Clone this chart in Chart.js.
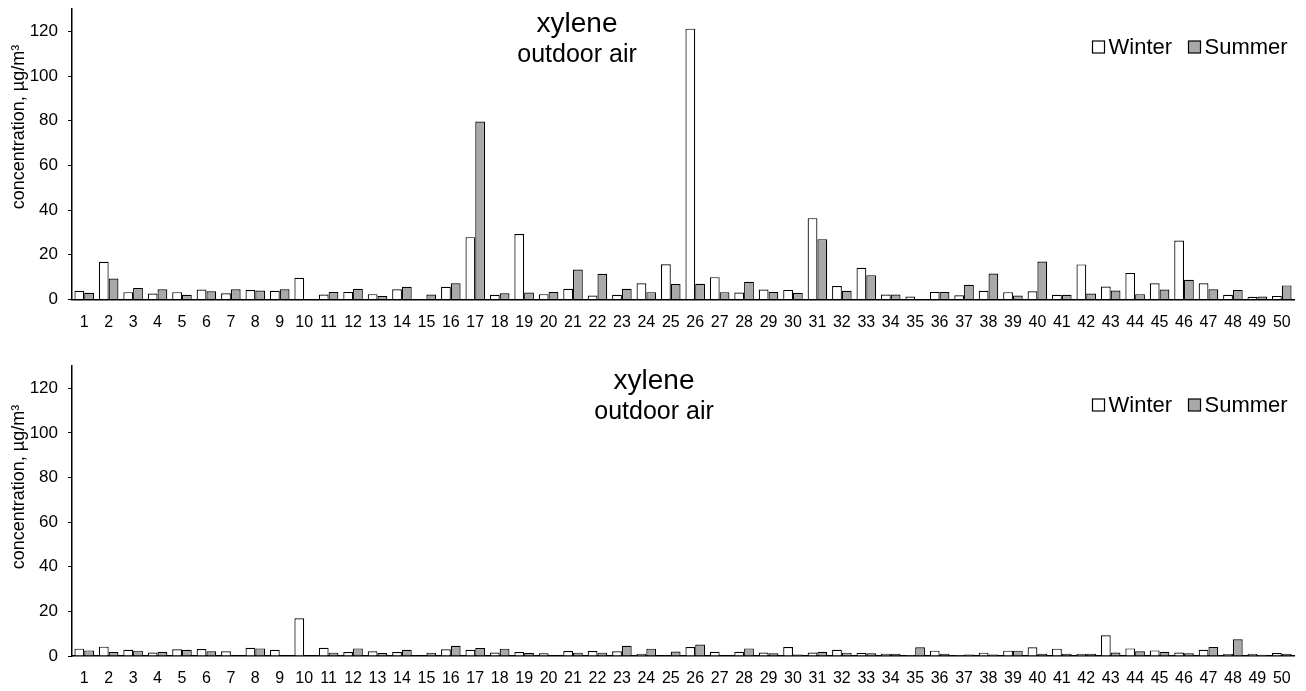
<!DOCTYPE html>
<html>
<head>
<meta charset="utf-8">
<script src="https://cdn.jsdelivr.net/npm/chart.js@4"></script>
<style>
  body { margin: 0; background: #fff; }
  .panel { position: absolute; left: 0; width: 1306px; }
  #topPanel { top: 0; height: 330px; }
  #bottomPanel { top: 330px; height: 361px; }
</style>
</head>
<body>
<div class="panel" id="topPanel"><canvas id="chartTop" width="1306" height="330"></canvas></div>
<div class="panel" id="bottomPanel"><canvas id="chartBottom" width="1306" height="361"></canvas></div>
<script>
const labels = ['1','2','3','4','5','6','7','8','9','10','11','12','13','14','15','16','17','18','19','20',
  '21','22','23','24','25','26','27','28','29','30','31','32','33','34','35','36','37','38','39','40',
  '41','42','43','44','45','46','47','48','49','50'];

// upper panel
const winterTop = [3.9,16.9,3.3,2.7,3.3,4.5,2.8,4.2,3.9,9.7,2.2,3.4,2.4,4.6,0,5.7,27.9,2.1,29.3,2.4,
  4.8,1.8,2.1,7.3,15.8,121.2,10.0,3.1,4.5,4.3,36.4,6.0,14.2,2.2,1.3,3.4,1.9,3.9,3.3,3.7,
  2.1,15.7,5.8,11.9,7.3,26.4,7.3,2.1,1.2,1.6];
const summerTop = [3.0,9.4,5.2,4.6,2.1,3.7,4.6,4.0,4.6,0,3.4,4.8,1.6,5.7,2.2,7.3,79.6,2.8,3.1,3.4,
  13.4,11.5,4.8,3.3,6.9,7.0,3.3,7.9,3.4,3.0,27.0,3.9,10.9,2.2,0,3.4,6.6,11.6,1.8,17.0,
  2.1,2.7,4.0,2.4,4.5,8.8,4.6,4.3,1.3,6.3];

// lower panel
const winterBottom = [3.3,4.2,2.8,1.6,3.0,3.1,2.1,3.7,2.8,16.9,3.7,1.8,2.1,1.8,0,3.0,2.8,1.6,1.8,1.2,
  2.2,2.2,2.1,1.0,0,4.0,1.9,1.9,1.6,4.0,1.6,2.8,1.4,1.0,0.4,2.4,0.5,1.5,2.4,3.9,
  3.3,1.0,9.3,3.4,2.5,1.6,2.8,0.9,1.0,1.3];
const summerBottom = [2.5,1.8,2.4,1.9,2.8,2.1,0,3.4,0,0,1.5,3.4,1.3,2.8,1.5,4.6,3.6,3.3,1.3,0,
  1.5,1.5,4.6,3.3,2.0,5.1,0,3.4,1.2,0.7,1.9,1.5,1.2,1.0,3.9,1.0,0.7,0.7,2.4,1.0,
  1.0,1.0,1.6,2.1,1.9,1.2,4.0,7.5,0.6,1.0];

const yTicks = [0, 20, 40, 60, 80, 100, 120];
const seriesNames = ['Winter', 'Summer'];
const titleLines = ['xylene', 'outdoor air'];
const yTitle = 'concentration, \u00b5g/m\u00b3';

const FONT = '"Liberation Sans", Arial, sans-serif';
const summerFill = '#a9a9a9';

// title, legend and axis title drawn over the plot
const overlayPlugin = {
  id: 'overlay',
  afterDraw(chart, args, opts) {
    const ctx = chart.ctx;
    ctx.save();
    ctx.fillStyle = '#000';
    ctx.textAlign = 'center';
    ctx.textBaseline = 'alphabetic';
    ctx.font = '28px ' + FONT;
    ctx.fillText(titleLines[0], opts.titleX, opts.titleY1);
    ctx.font = '25px ' + FONT;
    ctx.fillText(titleLines[1], opts.titleX, opts.titleY2);

    // y axis title, not centred on the axis in the original
    ctx.save();
    ctx.translate(19, opts.yTitleY);
    ctx.rotate(-Math.PI / 2);
    ctx.font = '18px ' + FONT;
    ctx.textBaseline = 'middle';
    ctx.fillText(yTitle, 0, 0);
    ctx.restore();

    // legend
    ctx.font = '22px ' + FONT;
    ctx.textAlign = 'left';
    ctx.textBaseline = 'middle';
    const y = opts.legendY;
    const boxX = [1092.5, 1188.5];
    chart.data.datasets.forEach((ds, i) => {
      ctx.fillStyle = ds.backgroundColor;
      ctx.strokeStyle = '#000';
      ctx.lineWidth = 1.2;
      ctx.fillRect(boxX[i], y - 6, 12, 12);
      ctx.strokeRect(boxX[i], y - 6, 12, 12);
      ctx.fillStyle = '#000';
      ctx.fillText(ds.label, boxX[i] + 16, y + 1);
    });
    ctx.restore();
  }
};

function makeChart(id, winter, summer, padTop, xHeight, overlay) {
  return new Chart(document.getElementById(id), {
    type: 'bar',
    data: {
      labels: labels,
      datasets: [
        { label: seriesNames[0], data: winter, backgroundColor: '#ffffff', borderColor: '#000', borderWidth: 1.2 },
        { label: seriesNames[1], data: summer, backgroundColor: summerFill, borderColor: '#000', borderWidth: 1.2 }
      ]
    },
    plugins: [overlayPlugin],
    options: {
      responsive: false,
      animation: false,
      devicePixelRatio: 1,
      layout: { padding: { top: padTop, right: 12, left: 0, bottom: 0 } },
      datasets: { bar: { categoryPercentage: 0.8, barPercentage: 1.0 } },
      plugins: {
        legend: { display: false },
        tooltip: { enabled: false },
        overlay: overlay
      },
      scales: {
        x: {
          grid: { display: false },
          border: { display: true, color: '#000', width: 1.5 },
          ticks: { color: '#000', font: { family: FONT, size: 16 }, padding: 5, autoSkip: false, maxRotation: 0 },
          afterFit(scale) { scale.height = xHeight; }
        },
        y: {
          min: 0,
          max: 130,
          grid: { drawOnChartArea: false, drawTicks: true, tickLength: 4, color: '#000' },
          border: { display: true, color: '#000', width: 1.5 },
          ticks: { color: '#000', font: { family: FONT, size: 17 }, padding: 10 },
          afterBuildTicks(scale) { scale.ticks = yTicks.map(v => ({ value: v })); },
          afterFit(scale) {
            scale.width = 72;
            scale.paddingTop = 0;
            scale.paddingBottom = 0;
          }
        }
      }
    }
  });
}

makeChart('chartTop', winterTop, summerTop, 9, 30.5,
  { titleX: 577, titleY1: 32, titleY2: 62, legendX: 1092, legendY: 47, yTitleY: 127 });
makeChart('chartBottom', winterBottom, summerBottom, 36, 35,
  { titleX: 654, titleY1: 59, titleY2: 89, legendX: 1092, legendY: 75, yTitleY: 157 });
</script>
</body>
</html>
